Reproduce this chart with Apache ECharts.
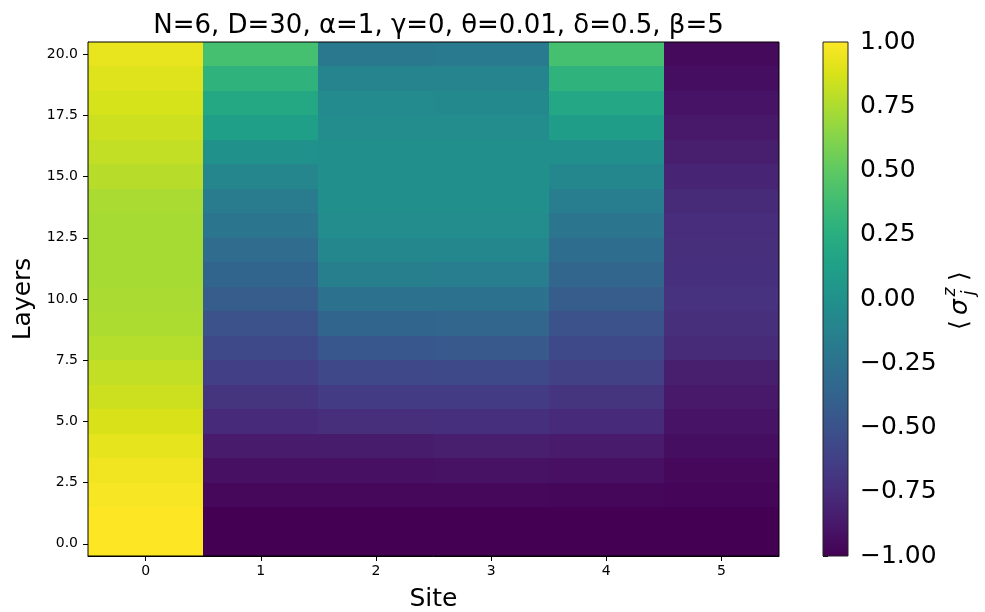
<!DOCTYPE html>
<html>
<head>
<meta charset="utf-8">
<script src="https://cdn.jsdelivr.net/npm/echarts@6/dist/echarts.min.js"></script>
<style>html,body{margin:0;padding:0;background:#fff;}#c{width:985px;height:612px;}</style>
</head>
<body>
<div id="c"></div>
<script>
// ---- data ----
const titleText = 'N=6, D=30, α=1, γ=0, θ=0.01, δ=0.5, β=5';
const sites = [0, 1, 2, 3, 4, 5];
const layers = [0,1,2,3,4,5,6,7,8,9,10,11,12,13,14,15,16,17,18,19,20];
// <sigma_j^z> per site, indexed by layer 0..20
const site0 = [1.00, 1.00, 0.98, 0.96, 0.92, 0.88, 0.84, 0.81, 0.77, 0.75, 0.74, 0.73, 0.73, 0.73, 0.74, 0.78, 0.81, 0.84, 0.87, 0.90, 0.93];
const site1 = [-1.00, -1.00, -0.96, -0.92, -0.86, -0.76, -0.70, -0.63, -0.56, -0.50, -0.42, -0.36, -0.30, -0.23, -0.17, -0.09, 0.00, 0.11, 0.20, 0.29, 0.40];
const site2 = [-1.00, -1.00, -0.96, -0.92, -0.85, -0.74, -0.66, -0.57, -0.46, -0.36, -0.25, -0.15, -0.08, -0.03, -0.01, -0.01, -0.01, -0.03, -0.06, -0.11, -0.20];
const site3 = [-1.00, -1.00, -0.96, -0.91, -0.84, -0.73, -0.65, -0.56, -0.45, -0.35, -0.25, -0.16, -0.08, -0.03, -0.01, -0.01, -0.01, -0.03, -0.07, -0.11, -0.19];
const site4 = [-1.00, -1.00, -0.97, -0.92, -0.86, -0.76, -0.70, -0.62, -0.56, -0.50, -0.42, -0.35, -0.29, -0.23, -0.16, -0.08, -0.01, 0.10, 0.19, 0.29, 0.40];
const site5 = [-1.00, -1.00, -0.98, -0.96, -0.93, -0.90, -0.87, -0.84, -0.77, -0.74, -0.72, -0.73, -0.74, -0.75, -0.77, -0.80, -0.84, -0.87, -0.90, -0.93, -0.95];
const siteValues = [site0, site1, site2, site3, site4, site5];
const yTicks = [0, 2.5, 5, 7.5, 10, 12.5, 15, 17.5, 20];
const colorbarTicks = [-1, -0.75, -0.5, -0.25, 0, 0.25, 0.5, 0.75, 1];
const valueRange = [-1, 1];

// viridis colormap
const viridis = ['#440154','#48186a','#472d7b','#424086','#3b528b','#33638d','#2c728e','#26828e',
  '#21918c','#1fa088','#28ae80','#3fbc73','#5ec962','#84d44b','#addc30','#d8e219','#fde725'];

const cells = [];
sites.forEach(function (s, i) {
  layers.forEach(function (l, j) { cells.push([s, l, siteValues[i][j]]); });
});

const FONT = 'DejaVu Sans';
const fmtMinus = function (s) { return s.replace('-', '\u2212'); };

const chart = echarts.init(document.getElementById('c'), null, {renderer: 'canvas'});
chart.setOption({
  animation: false,
  backgroundColor: '#ffffff',
  textStyle: {fontFamily: FONT},
  title: {
    text: titleText, left: 433.5, top: 8, textAlign: 'center',
    textStyle: {fontFamily: FONT, fontSize: 26, fontWeight: 'normal', color: '#000'}
  },
  grid: [
    {left: 88, top: 42, width: 691, height: 514, outerBoundsMode: 'none', containLabel: false,
      show: true, borderColor: '#000', borderWidth: 1, backgroundColor: 'transparent', z: 3},
    {left: 823, top: 42, width: 25, height: 514, outerBoundsMode: 'none', containLabel: false,
      show: true, borderColor: '#222', borderWidth: 1, backgroundColor: 'transparent', z: 3}
  ],
  xAxis: [
    {
      type: 'value', gridIndex: 0, min: -0.5, max: 5.5,
      name: 'Site', nameLocation: 'middle', nameGap: 31,
      nameTextStyle: {fontFamily: FONT, fontSize: 25, color: '#000'},
      axisLine: {show: true, onZero: false, lineStyle: {color: '#000', width: 1}},
      axisTick: {show: true, length: 5, customValues: sites, lineStyle: {color: '#000'}},
      axisLabel: {customValues: sites, fontFamily: FONT, fontSize: 14, color: '#000', margin: 8},
      splitLine: {show: false}
    },
    {type: 'value', gridIndex: 1, min: 0, max: 1, show: false}
  ],
  yAxis: [
    {
      type: 'value', gridIndex: 0, min: -0.5, max: 20.5,
      name: 'Layers', nameLocation: 'middle', nameGap: 52, nameRotate: 90,
      nameTextStyle: {fontFamily: FONT, fontSize: 25, color: '#000'},
      axisLine: {show: true, onZero: false, lineStyle: {color: '#000', width: 1}},
      axisTick: {show: true, length: 5, customValues: yTicks, lineStyle: {color: '#000'}},
      axisLabel: {customValues: yTicks, fontFamily: FONT, fontSize: 14, color: '#000', margin: 10,
        formatter: function (v) { return fmtMinus(Number(v).toFixed(1)); }},
      splitLine: {show: false}
    },
    {
      type: 'value', gridIndex: 1, min: valueRange[0], max: valueRange[1], position: 'right',
      axisLine: {show: false},
      axisTick: {show: true, length: 5, customValues: colorbarTicks, lineStyle: {color: '#000'}},
      axisLabel: {customValues: colorbarTicks, fontFamily: FONT, fontSize: 25, color: '#000', margin: 12,
        formatter: function (v) { return fmtMinus(Number(v).toFixed(2)); }},
      splitLine: {show: false}
    }
  ],
  visualMap: {
    show: false, type: 'continuous', seriesIndex: 0, dimension: 2,
    min: valueRange[0], max: valueRange[1], inRange: {color: viridis}
  },
  series: [
    {
      type: 'custom', xAxisIndex: 0, yAxisIndex: 0, data: cells,
      encode: {x: 0, y: 1},
      renderItem: function (params, api) {
        const x = api.value(0), y = api.value(1);
        const p0 = api.coord([x - 0.5, y + 0.5]);
        const p1 = api.coord([x + 0.5, y - 0.5]);
        const x0 = Math.round(p0[0]), y0 = Math.round(p0[1]);
        const x1 = Math.round(p1[0]), y1 = Math.round(p1[1]);
        return {type: 'rect', shape: {x: x0, y: y0, width: x1 - x0, height: y1 - y0},
          style: {fill: api.visual('color')}};
      },
      z: 1
    },
    {
      type: 'custom', xAxisIndex: 1, yAxisIndex: 1, data: [[0, valueRange[0], valueRange[1]]],
      encode: {x: 0, y: [1, 2]},
      renderItem: function (params, api) {
        const p0 = api.coord([0, api.value(2)]);
        const p1 = api.coord([1, api.value(1)]);
        const stops = viridis.map(function (c, i) { return {offset: i / (viridis.length - 1), color: c}; });
        return {type: 'rect', shape: {x: p0[0], y: p0[1], width: p1[0] - p0[0], height: p1[1] - p0[1]},
          style: {fill: {type: 'linear', x: 0, y: 1, x2: 0, y2: 0, colorStops: stops}}};
      },
      z: 1
    }
  ],
  graphic: [
    {
      type: 'group', x: 960, y: 298, rotation: Math.PI / 2,
      children: [
        {type: 'text', x: -27, y: 0, style: {text: '\u27e8', font: '25px "DejaVu Sans"', fill: '#000', align: 'center', verticalAlign: 'middle'}},
        {type: 'text', x: -9, y: 0, style: {text: 'σ', font: 'italic 25px "DejaVu Sans"', fill: '#000', align: 'center', verticalAlign: 'middle'}},
        {type: 'text', x: 6, y: -9, style: {text: 'z', font: 'italic 17px "DejaVu Sans"', fill: '#000', align: 'center', verticalAlign: 'middle'}},
        {type: 'text', x: 5, y: 10, style: {text: 'j', font: 'italic 17px "DejaVu Sans"', fill: '#000', align: 'center', verticalAlign: 'middle'}},
        {type: 'text', x: 22, y: 0, style: {text: '\u27e9', font: '25px "DejaVu Sans"', fill: '#000', align: 'center', verticalAlign: 'middle'}}
      ]
    }
  ]
});
</script>
</body>
</html>
